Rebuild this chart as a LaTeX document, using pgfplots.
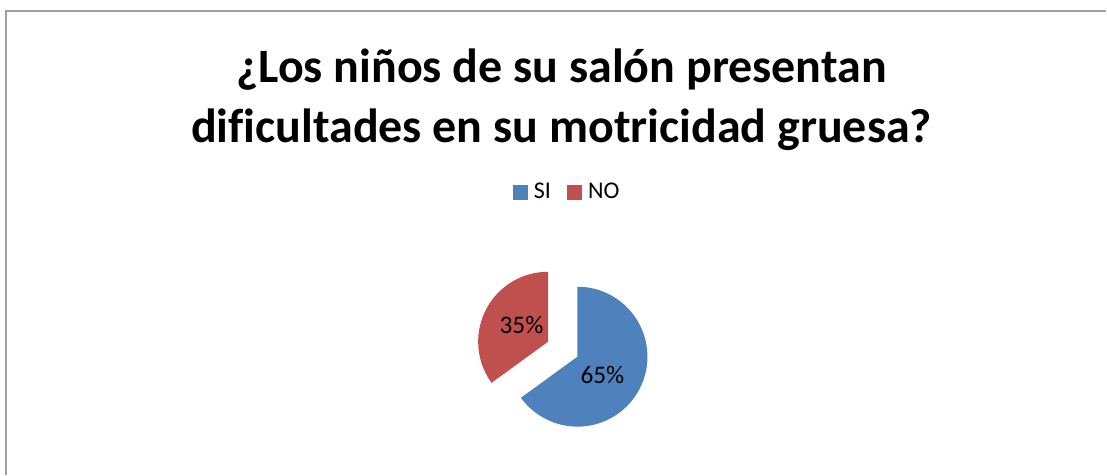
\documentclass[border=0pt]{standalone}
\usepackage{pgfplots}
\usepackage{pgfplotstable}
\pgfplotsset{compat=1.18}
\usepackage{fontspec}
\setmainfont{Carlito}[Ligatures=NoCommon]
\usetikzlibrary{calc}
\definecolor{siblue}{HTML}{4F81BD}
\definecolor{nored}{HTML}{C0504D}
\definecolor{framegray}{HTML}{A0A0A0}
\pgfplotstableread{
label value
SI 65
NO 35
}\piedata
\begin{document}
\begin{tikzpicture}
\pgfplotstablegetelem{0}{value}\of\piedata \let\vsi\pgfplotsretval
\pgfplotstablegetelem{1}{value}\of\piedata \let\vno\pgfplotsretval
\pgfmathsetmacro{\siend}{90-3.6*\vsi}
\pgfmathsetmacro{\noend}{90+3.6*\vno}
\pgfmathsetmacro{\nomid}{90+1.8*\vno}
\begin{axis}[
  width=830.25pt, height=356.25pt, scale only axis,
  xmin=0, xmax=1107, ymin=0, ymax=475,
  hide axis, clip=false,
  legend columns=2,
  legend style={at={(axis cs:568,283)}, anchor=center, draw=none, fill=none,
    font=\fontsize{18}{21}\selectfont,
    /tikz/every odd column/.append style={column sep=3pt},
    /tikz/every even column/.append style={column sep=10pt}},
]
\path (rel axis cs:0,0) rectangle (rel axis cs:1,1);
\draw[framegray, line width=1.5pt] (axis cs:6,0) -- (axis cs:6,464) -- (axis cs:1107,464);
\addlegendimage{legend image code/.code={\fill[siblue] (0pt,-5.25pt) rectangle (10.5pt,5.25pt);}}
\addlegendentry{SI}
\addlegendimage{legend image code/.code={\fill[nored] (0pt,-5.25pt) rectangle (10.5pt,5.25pt);}}
\addlegendentry{NO}
% SI slice
\fill[siblue] (axis cs:578,118) -- ++(90:52.5pt) arc[start angle=90, end angle=\siend, radius=52.5pt] -- cycle;
% NO slice (exploded)
\fill[nored] ($(axis cs:578,118)+(\nomid:24.75pt)$) -- ++(90:52.5pt) arc[start angle=90, end angle=\noend, radius=52.5pt] -- cycle;
\node[font=\fontsize{19}{22}\selectfont] at (axis cs:603,100) {65\%};
\node[font=\fontsize{19}{22}\selectfont] at (axis cs:522,150) {35\%};
\node[align=center, font=\fontsize{36}{45}\selectfont\bfseries] at (axis cs:562,375)
  {¿Los niños de su salón presentan\\dificultades en su motricidad gruesa?};
\end{axis}
\end{tikzpicture}
\end{document}
